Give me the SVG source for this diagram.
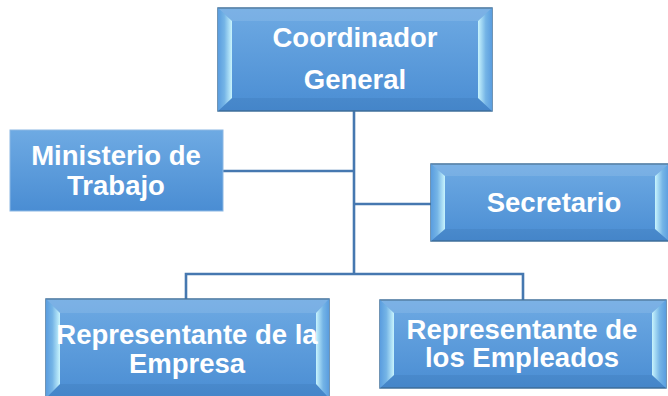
<svg xmlns="http://www.w3.org/2000/svg" width="668" height="396" viewBox="0 0 668 396">
<defs>
<linearGradient id="fillG" x1="0" y1="0" x2="0" y2="1">
<stop offset="0" stop-color="#6eaae3"/>
<stop offset="1" stop-color="#4a8dd3"/>
</linearGradient>
<linearGradient id="bevL" x1="0" y1="0" x2="1" y2="0">
<stop offset="0" stop-color="#5a9ddf"/>
<stop offset="0.45" stop-color="#74b4e6"/>
<stop offset="1" stop-color="#c8f4fd"/>
</linearGradient>
<linearGradient id="bevR" x1="1" y1="0" x2="0" y2="0">
<stop offset="0" stop-color="#5a9ddf"/>
<stop offset="0.45" stop-color="#74b4e6"/>
<stop offset="1" stop-color="#c8f4fd"/>
</linearGradient>
<style>
.box{fill:url(#fillG);stroke:#41719c;stroke-width:1.5}
.flat{fill:url(#fillG);stroke:#8cb8e4;stroke-width:1}
.bl{fill:url(#bevL)}
.br{fill:url(#bevR)}
.bt{fill:#ffffff;fill-opacity:0.1}
.bb{fill:#1f4f86;fill-opacity:0.12}
.lbl{font-family:"Liberation Sans",Arial,sans-serif;font-weight:bold;font-size:27.5px;fill:#ffffff;text-anchor:middle}
.conn{fill:none;stroke:#4678b0;stroke-width:2.6}
</style>
</defs>
<g id="connectors">
<line class="conn" x1="354" y1="111" x2="354" y2="274"/>
<line class="conn" x1="223" y1="171" x2="354" y2="171"/>
<line class="conn" x1="354" y1="204" x2="431" y2="204"/>
<polyline class="conn" points="186,299 186,274 523,274 523,300"/>
</g>
<g id="coordinador">
<rect class="box" x="218" y="8" width="274" height="103"/>
<polygon class="bt" points="218,8 492,8 478,21 232,21"/>
<polygon class="bb" points="218,111 492,111 478,98 232,98"/>
<polygon class="bl" points="218,8 232,21 232,98 218,111"/>
<polygon class="br" points="492,8 478,21 478,98 492,111"/>
<text class="lbl" x="355" y="47">Coordinador</text>
<text class="lbl" x="355" y="89">General</text>
</g>
<g id="ministerio">
<rect class="flat" x="10" y="130" width="213" height="81"/>
<text class="lbl" x="116" y="165">Ministerio de</text>
<text class="lbl" x="116" y="195">Trabajo</text>
</g>
<g id="secretario">
<rect class="box" x="431" y="164" width="238" height="77"/>
<polygon class="bt" points="431,164 669,164 655,176 445,176"/>
<polygon class="bb" points="431,241 669,241 655,229 445,229"/>
<polygon class="bl" points="431,164 445,176 445,229 431,241"/>
<polygon class="br" points="669,164 655,176 655,229 669,241"/>
<text class="lbl" x="554" y="212">Secretario</text>
</g>
<g id="rep-empresa">
<rect class="box" x="46" y="299" width="283" height="99"/>
<polygon class="bt" points="46,299 329,299 316,313 60,313"/>
<polygon class="bb" points="46,398 329,398 316,384 60,384"/>
<polygon class="bl" points="46,299 60,313 60,384 46,398"/>
<polygon class="br" points="329,299 316,313 316,384 329,398"/>
<text class="lbl" x="187" y="344">Representante de la</text>
<text class="lbl" x="187" y="373">Empresa</text>
</g>
<g id="rep-empleados">
<rect class="box" x="380" y="300" width="286" height="88"/>
<polygon class="bt" points="380,300 666,300 652,313 394,313"/>
<polygon class="bb" points="380,388 666,388 652,375 394,375"/>
<polygon class="bl" points="380,300 394,313 394,375 380,388"/>
<polygon class="br" points="666,300 652,313 652,375 666,388"/>
<text class="lbl" x="522" y="339">Representante de</text>
<text class="lbl" x="522" y="367">los Empleados</text>
</g>
</svg>
